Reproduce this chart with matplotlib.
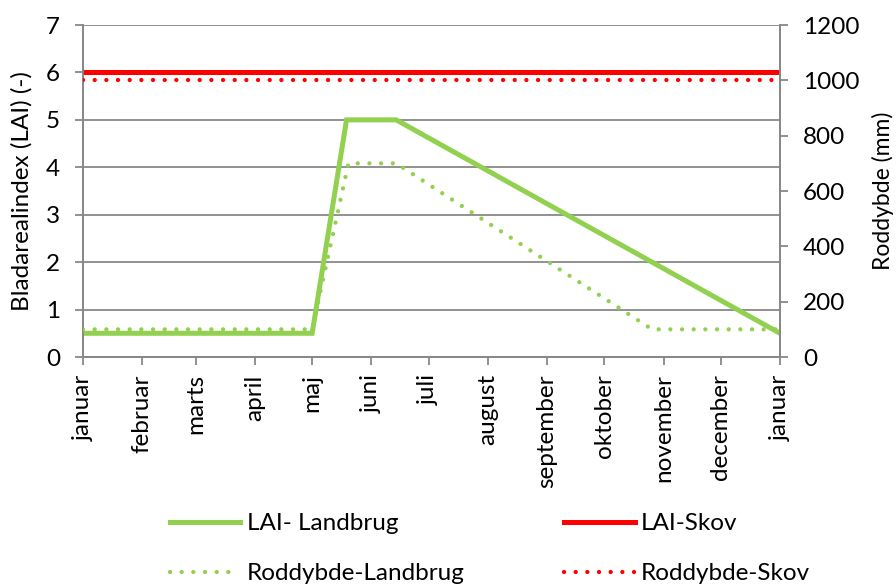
import matplotlib
matplotlib.use("Agg")
import matplotlib.pyplot as plt
import numpy as np
import pandas as pd

plt.rcParams['font.family'] = ['Lato', 'DejaVu Sans']

# ---- data ----
month_labels = ['januar', 'februar', 'marts', 'april', 'maj', 'juni', 'juli',
                'august', 'september', 'oktober', 'november', 'december', 'januar']

lai_land_dates = ['2013-01-01', '2013-05-01', '2013-05-19', '2013-06-14', '2014-01-01']
lai_land_vals = [0.5, 0.5, 5.0, 5.0, 0.5]

root_land_dates = ['2013-01-01', '2013-05-01', '2013-05-20', '2013-06-14', '2013-10-26', '2014-01-01']
root_land_vals = [100, 100, 700, 700, 100, 100]

skov_dates = ['2013-01-01', '2014-01-01']
lai_skov_vals = [6, 6]
root_skov_vals = [1000, 1000]

green = '#92D050'
red = '#FF0000'
gridc = '#888888'

W, H = 896, 587
fig = plt.figure(figsize=(W / 100, H / 100), dpi=100)
L, R, T, B = 83, 780, 25, 357
ax = fig.add_axes([L / W, 1 - B / H, (R - L) / W, (B - T) / H])
ax2 = ax.twinx()

d = lambda s: pd.to_datetime(s)

fs = 17.5
solid_lw = 3.6
dot_lw = 3.1
dot_style = (0, (0.01, 2.7))

l1, = ax.plot(d(lai_land_dates), lai_land_vals, color=green, lw=solid_lw,
              solid_joinstyle='miter', zorder=3)
l2, = ax.plot(d(skov_dates), lai_skov_vals, color=red, lw=solid_lw, zorder=3)
l3, = ax2.plot(d(root_land_dates), root_land_vals, color=green, lw=dot_lw,
               linestyle=dot_style, dash_capstyle='round', zorder=3)
l4, = ax2.plot(d(skov_dates), root_skov_vals, color=red, lw=dot_lw,
               linestyle=dot_style, dash_capstyle='round', zorder=3)

ax.set_xlim(d('2013-01-01'), d('2014-01-01'))
ax.set_ylim(0, 7)
ax.set_yticks(range(0, 8))
ax2.set_ylim(0, 1200)
ax2.set_yticks(range(0, 1201, 200))

ticks = pd.date_range('2013-01-01', '2014-01-01', freq='MS')
ax.set_xticks(ticks)
ax.set_xticklabels(month_labels, rotation=90, ha='center', va='top', fontsize=fs)

ax.grid(axis='y', color=gridc, lw=1.3)
ax.set_axisbelow(True)

for a in (ax, ax2):
    for sp in a.spines.values():
        sp.set_color(gridc)
        sp.set_linewidth(1.3)
    a.spines['top'].set_visible(False)
    a.tick_params(colors=gridc, length=5.5, width=1.3, direction='out',
                  labelcolor='black', labelsize=fs, pad=11)
ax.tick_params(axis='x', pad=7)

ax.set_ylabel('Bladarealindex (LAI) (-)', fontsize=fs)
ax.yaxis.set_label_coords(-0.072, 0.5)
ax2.set_ylabel('Roddybde (mm)', fontsize=16.5, rotation=90)
ax2.yaxis.set_label_coords(1.132, 0.5)

handles = [l1, l3, l2, l4]
labels = ['LAI- Landbrug', 'Roddybde-Landbrug', 'LAI-Skov', 'Roddybde-Skov']
leg = fig.legend(handles, labels, ncol=2, loc='upper left',
                 bbox_to_anchor=(170 / W, 1 - 513 / H), frameon=False,
                 fontsize=fs, handlelength=2.9, handletextpad=0.25,
                 columnspacing=4.1, labelspacing=1.2, borderpad=0, borderaxespad=0)

fig.savefig('out.png', dpi=100)
